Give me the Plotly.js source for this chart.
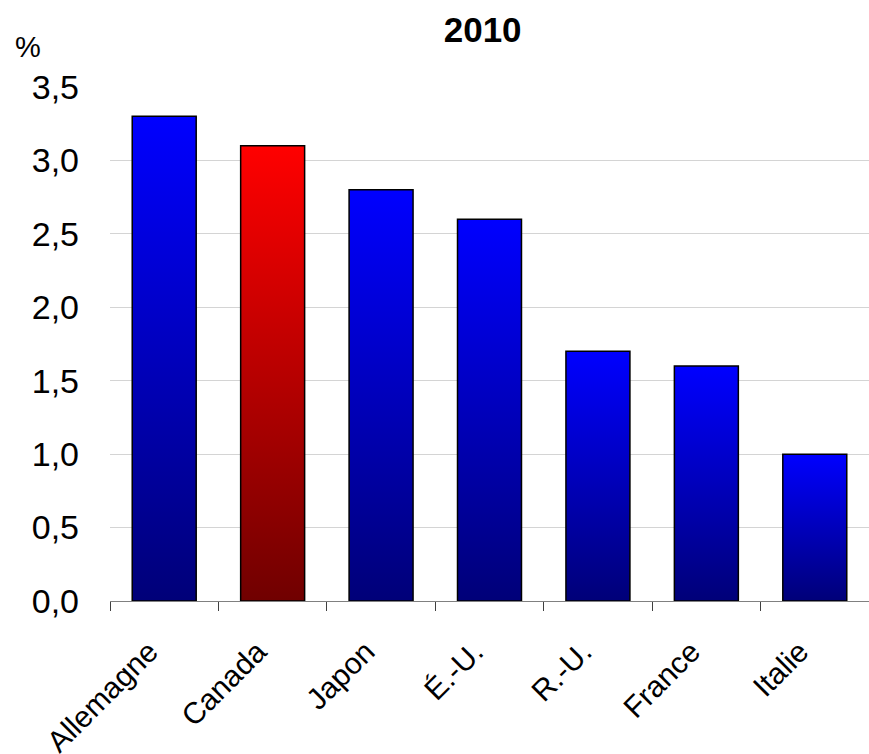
<!DOCTYPE html>
<html>
<head>
<meta charset="utf-8">
<script src="https://cdn.plot.ly/plotly-3.0.1.min.js"></script>
<style>
  html, body { margin: 0; padding: 0; background: #fff; }
  #chart { width: 869px; height: 754px; }
</style>
</head>
<body>
<div id="chart"></div>
<script>
// Pays du G7, valeurs en %
const categories = ['Allemagne', 'Canada', 'Japon', 'É.-U.', 'R.-U.', 'France', 'Italie'];
const values = [3.3, 3.1, 2.8, 2.6, 1.7, 1.6, 1.0];
const highlight = 'Canada';
const yTicks = [0, 0.5, 1, 1.5, 2, 2.5, 3, 3.5];

const baseColors = categories.map(c => c === highlight ? '#ff0000' : '#0000ff');

const FONT = 'Liberation Sans, Arial, sans-serif';

const trace = {
  type: 'bar',
  x: categories,
  y: values,
  marker: { color: baseColors, line: { color: '#000000', width: 1.5 } },
  hoverinfo: 'x+y'
};

const layout = {
  width: 869,
  height: 754,
  margin: { l: 110, r: 0, t: 87, b: 153 },
  paper_bgcolor: '#ffffff',
  plot_bgcolor: '#ffffff',
  separators: ',.',
  bargap: 0.41,
  showlegend: false,
  font: { family: FONT, color: '#000000' },
  title: {
    text: '<b>2010</b>',
    font: { size: 35, family: FONT, color: '#000000' },
    x: 0.491, xanchor: 'center', xref: 'paper',
    y: 0.96, yanchor: 'middle'
  },
  xaxis: {
    type: 'category',
    tickson: 'boundaries',
    ticks: 'outside',
    ticklen: 9,
    tickcolor: '#404040',
    tickwidth: 1.3,
    showgrid: false,
    showline: true,
    linecolor: '#808080',
    linewidth: 1.3,
    tickangle: -45,
    ticklabelstandoff: 20,
    ticklabelshift: -15,
    tickfont: { size: 30, family: FONT, color: '#000000' },
    fixedrange: true
  },
  yaxis: {
    range: [0, 3.5],
    tickvals: yTicks,
    tickformat: '.1f',
    showgrid: true,
    gridcolor: '#d4d4d4',
    gridwidth: 1,
    zeroline: false,
    showline: false,
    ticks: '',
    ticklabelstandoff: 30,
    tickfont: { size: 34, family: FONT, color: '#000000' },
    fixedrange: true
  },
  annotations: [{
    text: '%',
    xref: 'paper', yref: 'paper',
    x: -0.108, y: 1.078,
    xanchor: 'center', yanchor: 'middle',
    showarrow: false,
    font: { size: 29, family: FONT, color: '#000000' }
  }]
};

// Vertical shading on each bar: bright at the top, dark at the base
function applyGradients(gd) {
  const svg = gd.querySelector('svg.main-svg');
  if (!svg) return;
  const ns = 'http://www.w3.org/2000/svg';
  let defs = svg.querySelector('defs');
  if (!defs) { defs = document.createElementNS(ns, 'defs'); svg.insertBefore(defs, svg.firstChild); }
  const grads = { blue: ['#0000ff', '#000078'], red: ['#ff0000', '#700000'] };
  Object.keys(grads).forEach(k => {
    const g = document.createElementNS(ns, 'linearGradient');
    g.setAttribute('id', 'barShade-' + k);
    g.setAttribute('x1', '0'); g.setAttribute('y1', '0');
    g.setAttribute('x2', '0'); g.setAttribute('y2', '1');
    [[0, grads[k][0]], [1, grads[k][1]]].forEach(([o, c]) => {
      const s = document.createElementNS(ns, 'stop');
      s.setAttribute('offset', o);
      s.setAttribute('stop-color', c);
      g.appendChild(s);
    });
    defs.appendChild(g);
  });
  gd.querySelectorAll('.barlayer .point path').forEach((p, i) => {
    const key = categories[i] === highlight ? 'red' : 'blue';
    p.style.fill = 'url(#barShade-' + key + ')';
  });
}

Plotly.newPlot('chart', [trace], layout, { displayModeBar: false, responsive: false })
  .then(gd => applyGradients(gd));
</script>
</body>
</html>
